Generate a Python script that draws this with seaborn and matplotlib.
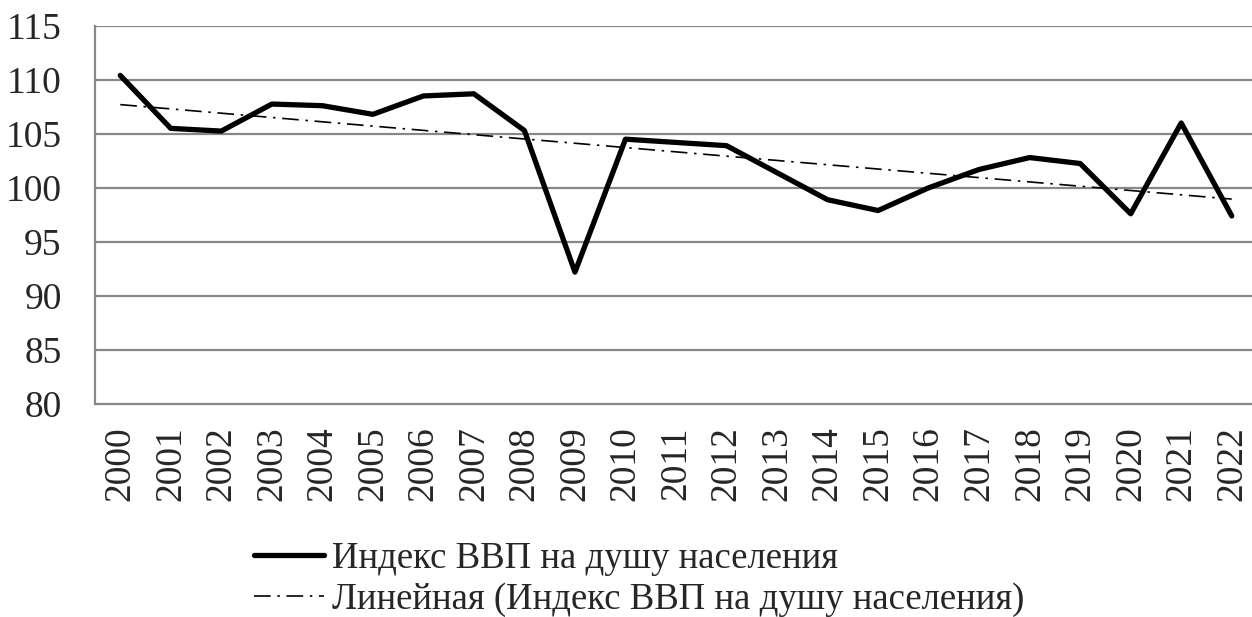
import numpy as np
import pandas as pd
import matplotlib
matplotlib.use("Agg")
import matplotlib.pyplot as plt
import seaborn as sns

# GDP per capita index
years = [str(y) for y in range(2000, 2023)]
gdp_index = [110.4, 105.5, 105.25, 107.75, 107.6, 106.8, 108.5, 108.7, 105.3, 92.2,
             104.5, 104.2, 103.9, 101.4, 98.9, 97.9, 100.0, 101.7, 102.8, 102.25,
             97.6, 106.0, 97.4]
y_ticks = [80, 85, 90, 95, 100, 105, 110, 115]
series_label = "Индекс ВВП на душу населения"
trend_label = "Линейная (Индекс ВВП на душу населения)"

df = pd.DataFrame({"year": years, "value": gdp_index})
df["pos"] = np.arange(len(df))

# linear trendline like Excel
coef = np.polyfit(df["pos"], df["value"], 1)
df["trend"] = np.polyval(coef, df["pos"])

sns.set_style("white")
plt.rcParams["font.family"] = ["Liberation Serif", "DejaVu Serif"]

fig = plt.figure(figsize=(12.52, 6.17), dpi=100)
ax = fig.add_axes([95 / 1252, 1 - 404 / 617, (1257 - 95) / 1252, (404 - 25.7) / 617])

grid_col = "#878787"
ax.grid(False)
for v in y_ticks[1:]:
    ax.axhline(v, color=grid_col, lw=1.6, zorder=0)

sns.lineplot(data=df, x="pos", y="value", ax=ax, color="black", lw=3.8,
             label=series_label, solid_joinstyle="round", solid_capstyle="round")
sns.lineplot(data=df, x="pos", y="trend", ax=ax, color="black", lw=1.2,
             label=trend_label, dashes=False)
ax.lines[-1].set_dashes((10, 4, 1.5, 4))

ax.set_xlim(-0.5, len(years) - 0.5)
ax.set_ylim(80, 115)
ax.set_yticks(y_ticks)
ax.set_xticks(df["pos"])
ax.set_xticklabels(years, rotation=90)
ax.set_xticks(np.arange(-0.5, len(years), 1), minor=True)
ax.tick_params(axis="x", which="major", length=0, pad=16, labelsize=27)
ax.tick_params(axis="x", which="minor", length=10, width=1.6, color=grid_col, direction="out")
ax.tick_params(axis="y", length=11, width=1.6, color=grid_col, pad=13, labelsize=27, direction="out")
ax.set_xlabel("")
ax.set_ylabel("")

for s in ["top", "right"]:
    ax.spines[s].set_visible(False)
for s in ["left", "bottom"]:
    ax.spines[s].set_color(grid_col)
    ax.spines[s].set_linewidth(1.6)

handles, labels = ax.get_legend_handles_labels()
ax.get_legend().remove()
fig.legend(handles, labels, loc="upper left", bbox_to_anchor=(254 / 1252, 1 - 541 / 617),
           frameon=False, fontsize=26.5, handlelength=1.9, handletextpad=0.22,
           labelspacing=0.2, borderpad=0, borderaxespad=0)

fig.savefig("out.png", dpi=100)
